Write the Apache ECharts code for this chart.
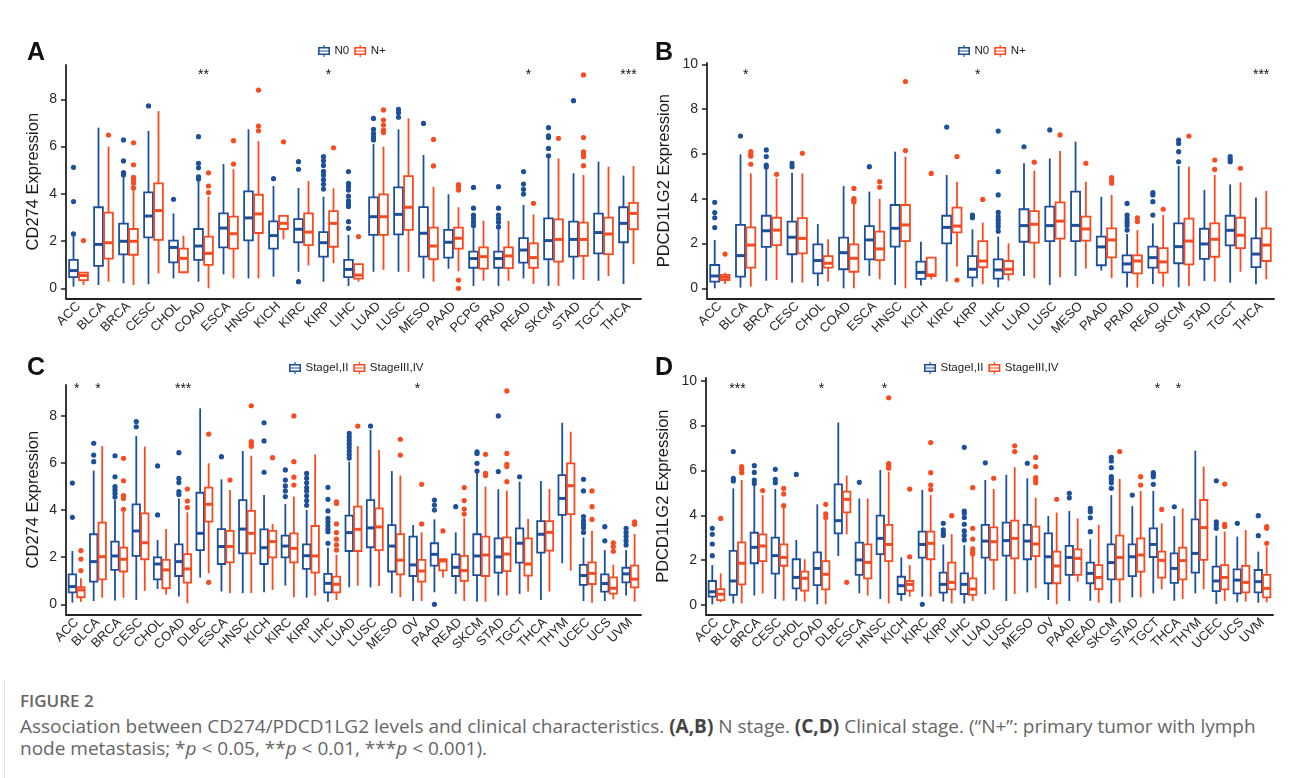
<!DOCTYPE html>
<html>
<head>
<meta charset="utf-8">
<script src="https://cdn.jsdelivr.net/npm/echarts@6.0.0/dist/echarts.min.js"></script>
<style>
  html, body { margin: 0; padding: 0; background: #fff; }
  #wrap { position: relative; width: 1290px; height: 778px; overflow: hidden; }
  #chart { position: absolute; left: 0; top: 0; width: 1290px; height: 680px; }
  #rule { position: absolute; left: 4px; top: 0; width: 1px; height: 778px; background: #e2e2e2; }
  #cap { position: absolute; left: 20px; top: 689px; font-family: "Open Sans", sans-serif; color: #666; }
  #cap .fig { font-size: 17px; font-weight: 600; line-height: 24px; color: #666; }
  #cap .txt { font-size: 19px; line-height: 22px; margin-top: 2px; white-space: nowrap; }
  #cap b { color: #444; }
</style>
</head>
<body>
<div id="wrap">
  <div id="rule"></div>
  <div id="chart"></div>
  <div id="cap">
    <div class="fig">FIGURE 2</div>
    <div class="txt">Association between CD274/PDCD1LG2 levels and clinical characteristics. <b>(A,B)</b> N stage. <b>(C,D)</b> Clinical stage. (“N+”: primary tumor with lymph<br>node metastasis; *<i>p</i> &lt; 0.05, **<i>p</i> &lt; 0.01, ***<i>p</i> &lt; 0.001).</div>
  </div>
</div>
<script>
var BLUE = '#1c4f9c'
var RED = '#fb4a20'
var FONT = '"Liberation Sans", Arial, sans-serif'

// categories
var catsA = ['ACC', 'BLCA', 'BRCA', 'CESC', 'CHOL', 'COAD', 'ESCA', 'HNSC', 'KICH', 'KIRC', 'KIRP', 'LIHC', 'LUAD', 'LUSC', 'MESO', 'PAAD', 'PCPG', 'PRAD', 'READ', 'SKCM', 'STAD', 'TGCT', 'THCA']
var catsB = ['ACC', 'BLCA', 'BRCA', 'CESC', 'CHOL', 'COAD', 'ESCA', 'HNSC', 'KICH', 'KIRC', 'KIRP', 'LIHC', 'LUAD', 'LUSC', 'MESO', 'PAAD', 'PRAD', 'READ', 'SKCM', 'STAD', 'TGCT', 'THCA']
var catsCD = ['ACC', 'BLCA', 'BRCA', 'CESC', 'CHOL', 'COAD', 'DLBC', 'ESCA', 'HNSC', 'KICH', 'KIRC', 'KIRP', 'LIHC', 'LUAD', 'LUSC', 'MESO', 'OV', 'PAAD', 'READ', 'SKCM', 'STAD', 'TGCT', 'THCA', 'THYM', 'UCEC', 'UCS', 'UVM']

var ticksCD274 = [0, 2, 4, 6, 8]
var ticksPDCD = [0, 2, 4, 6, 8, 10]

// box rows: [lower whisker, Q1, median, Q3, upper whisker]
// A: CD274, N stage
var boxA_N0 = [[0.07, 0.47, 0.75, 1.2, 2.2], [0.14, 0.95, 1.86, 3.43, 6.8], [0.21, 1.44, 1.99, 2.74, 4.7], [0.17, 2.16, 3.06, 4.06, 6.66], [0.42, 1.1, 1.73, 2.02, 3.17], [0.28, 1.2, 1.79, 2.51, 4.56], [0.59, 1.73, 2.55, 3.17, 5.26], [0.42, 2.03, 2.98, 4.1, 6.73], [0.49, 1.68, 2.23, 2.83, 4.33], [0.7, 1.95, 2.5, 2.93, 4.25], [0.28, 1.34, 1.93, 2.38, 3.88], [0.1, 0.47, 0.8, 1.2, 2.26], [0.7, 2.26, 3.03, 3.85, 6.11], [0.7, 2.28, 3.13, 4.27, 6.73], [0.42, 1.34, 2.33, 3.44, 5.64], [0.83, 1.3, 1.95, 2.47, 3.98], [0.1, 0.87, 1.26, 1.55, 2.54], [0.1, 0.87, 1.26, 1.55, 2.5], [0.42, 1.09, 1.62, 2.12, 3.53], [0.1, 1.23, 2.02, 2.96, 5.53], [0.38, 1.34, 2.07, 2.82, 4.87], [0.32, 1.48, 2.36, 3.16, 5.36], [0.18, 1.95, 2.75, 3.43, 4.77]]
var boxA_Np = [[0.14, 0.35, 0.54, 0.66, 0.66], [0.28, 1.26, 1.93, 3.2, 6.0], [0.14, 1.42, 1.99, 2.51, 4.16], [0.63, 2.05, 3.29, 4.44, 7.5], [0.65, 0.68, 1.27, 1.68, 2.23], [0.0, 0.99, 1.48, 2.19, 3.88], [0.42, 1.68, 2.31, 3.03, 5.04], [0.42, 2.34, 3.15, 3.96, 6.23], [2.07, 2.51, 2.75, 3.07, 3.07], [0.97, 1.83, 2.38, 3.17, 4.54], [1.06, 1.76, 2.75, 3.27, 4.23], [0.28, 0.41, 0.56, 1.02, 1.02], [0.78, 2.26, 3.03, 3.98, 6.0], [0.7, 2.47, 3.43, 4.75, 7.19], [0.28, 1.23, 1.79, 2.57, 4.3], [0.72, 1.68, 2.12, 2.57, 3.43], [0.32, 0.83, 1.34, 1.73, 2.86], [0.32, 0.85, 1.37, 1.73, 2.86], [0.18, 0.87, 1.3, 1.9, 3.13], [0.1, 1.13, 2.07, 2.92, 5.5], [0.35, 1.37, 2.07, 2.78, 4.8], [0.52, 1.45, 2.3, 2.99, 5.15], [1.02, 2.5, 3.17, 3.62, 5.18]]
var outA_N0 = [['ACC', 5.12], ['ACC', 3.67], ['ACC', 2.3], ['BRCA', 6.28], ['BRCA', 5.39], ['BRCA', 4.9], ['BRCA', 4.8], ['CESC', 7.72], ['CHOL', 3.77], ['COAD', 6.42], ['COAD', 5.29], ['COAD', 5.1], ['COAD', 4.72], ['COAD', 4.63], ['KICH', 4.64], ['KIRC', 5.36], ['KIRC', 5.04], ['KIRC', 0.28], ['KIRP', 5.57], ['KIRP', 5.4], ['KIRP', 5.2], ['KIRP', 4.95], ['KIRP', 4.8], ['KIRP', 4.6], ['KIRP', 4.4], ['KIRP', 4.2], ['LIHC', 4.94], ['LIHC', 4.44], ['LIHC', 4.3], ['LIHC', 4.16], ['LIHC', 3.9], ['LIHC', 3.7], ['LIHC', 3.55], ['LIHC', 3.46], ['LIHC', 2.82], ['LIHC', 2.54], ['LUAD', 7.19], ['LUAD', 6.73], ['LUAD', 6.56], ['LUAD', 6.42], ['LUAD', 6.28], ['LUSC', 7.57], ['LUSC', 7.43], ['LUSC', 7.24], ['MESO', 6.98], ['PCPG', 4.27], ['PCPG', 3.39], ['PCPG', 3.1], ['PCPG', 2.95], ['PCPG', 2.8], ['PCPG', 2.65], ['PRAD', 4.3], ['PRAD', 3.39], ['PRAD', 3.1], ['PRAD', 2.95], ['PRAD', 2.8], ['PRAD', 2.6], ['READ', 4.94], ['READ', 4.41], ['READ', 4.19], ['READ', 3.99], ['SKCM', 6.8], ['SKCM', 6.45], ['SKCM', 6.38], ['SKCM', 5.92], ['SKCM', 5.61], ['STAD', 7.94]]
var outA_Np = [['ACC', 2.02], ['BLCA', 6.49], ['BRCA', 6.16], ['BRCA', 5.23], ['BRCA', 4.7], ['BRCA', 4.6], ['BRCA', 4.45], ['BRCA', 4.25], ['COAD', 4.89], ['COAD', 4.33], ['COAD', 4.05], ['ESCA', 6.25], ['ESCA', 5.26], ['HNSC', 8.39], ['HNSC', 6.87], ['HNSC', 6.67], ['KICH', 6.2], ['KIRP', 5.95], ['LIHC', 2.19], ['LUAD', 7.55], ['LUAD', 7.12], ['LUAD', 6.91], ['LUAD', 6.7], ['LUAD', 6.59], ['MESO', 6.3], ['MESO', 5.18], ['PAAD', 4.39], ['PAAD', 4.3], ['PAAD', 4.16], ['PAAD', 0.35], ['PAAD', 0.0], ['READ', 3.6], ['SKCM', 6.35], ['STAD', 9.03], ['STAD', 6.38], ['STAD', 5.78], ['STAD', 5.68], ['STAD', 5.57], ['STAD', 5.19]]
var sigA = [['COAD', '**'], ['KIRP', '*'], ['READ', '*'], ['THCA', '***']]

// B: PDCD1LG2, N stage
var boxB_N0 = [[0.0, 0.3, 0.55, 1.04, 2.16], [0.03, 0.52, 1.46, 2.83, 5.98], [0.34, 1.85, 2.57, 3.24, 5.4], [0.25, 1.52, 2.28, 2.98, 5.16], [0.1, 0.67, 1.24, 1.96, 2.87], [0.0, 0.85, 1.59, 2.26, 4.57], [0.55, 1.29, 2.16, 2.78, 4.32], [0.15, 1.86, 2.68, 3.72, 6.1], [0.12, 0.42, 0.71, 1.19, 2.08], [0.3, 2.01, 2.72, 3.24, 5.06], [0.07, 0.49, 0.85, 1.44, 2.63], [0.04, 0.43, 0.82, 1.29, 2.31], [0.55, 2.08, 2.8, 3.53, 5.58], [0.15, 2.11, 2.8, 3.65, 5.8], [0.55, 2.11, 2.81, 4.32, 6.55], [0.79, 1.03, 1.85, 2.31, 4.09], [0.04, 0.71, 1.09, 1.47, 2.43], [0.19, 0.92, 1.37, 1.86, 2.9], [0.04, 1.12, 1.86, 2.9, 5.46], [0.33, 1.31, 1.98, 2.66, 4.39], [0.25, 1.92, 2.59, 3.24, 4.64], [0.18, 0.95, 1.53, 2.23, 4.05]]
var boxB_Np = [[0.19, 0.37, 0.49, 0.6, 0.7], [0.07, 0.92, 1.93, 2.72, 5.13], [0.37, 1.93, 2.6, 3.15, 4.91], [0.25, 1.56, 2.23, 3.13, 5.13], [0.3, 0.92, 1.12, 1.44, 2.19], [0.0, 0.74, 1.34, 1.96, 3.75], [0.4, 1.26, 1.76, 2.53, 3.99], [0.0, 2.11, 2.83, 3.72, 5.88], [0.4, 0.55, 0.6, 1.37, 1.37], [0.97, 2.5, 2.78, 3.6, 4.76], [0.18, 0.94, 1.22, 2.11, 2.93], [0.34, 0.63, 0.85, 1.22, 2.01], [0.45, 2.04, 2.86, 3.45, 5.25], [0.49, 2.22, 3.0, 3.84, 6.13], [0.88, 2.13, 2.65, 3.2, 4.76], [0.45, 1.38, 2.16, 2.68, 4.17], [0.03, 0.67, 1.22, 1.47, 2.6], [0.07, 0.7, 1.18, 1.79, 3.27], [0.1, 1.07, 2.11, 3.11, 5.43], [0.3, 1.41, 2.19, 2.9, 5.06], [0.74, 1.79, 2.37, 3.15, 4.73], [0.4, 1.22, 1.93, 2.68, 4.35]]
var outB_N0 = [['ACC', 3.84], ['ACC', 3.38], ['ACC', 3.15], ['ACC', 2.71], ['BLCA', 6.8], ['BRCA', 6.18], ['BRCA', 5.88], ['BRCA', 5.5], ['BRCA', 5.42], ['CESC', 5.58], ['CESC', 5.43], ['ESCA', 5.43], ['KIRC', 7.2], ['KIRP', 3.27], ['KIRP', 3.15], ['LIHC', 7.02], ['LIHC', 5.21], ['LIHC', 4.17], ['LIHC', 3.39], ['LIHC', 3.2], ['LIHC', 3.05], ['LIHC', 2.9], ['LIHC', 2.75], ['LIHC', 2.55], ['LUAD', 6.32], ['LUSC', 7.07], ['PRAD', 3.79], ['PRAD', 3.27], ['PRAD', 3.1], ['PRAD', 2.95], ['PRAD', 2.8], ['PRAD', 2.6], ['READ', 4.27], ['READ', 4.17], ['READ', 3.87], ['READ', 3.27], ['SKCM', 6.62], ['SKCM', 6.47], ['SKCM', 6.1], ['SKCM', 5.65], ['TGCT', 5.88], ['TGCT', 5.76], ['TGCT', 5.65]]
var outB_Np = [['ACC', 1.53], ['BLCA', 6.1], ['BLCA', 6.0], ['BLCA', 5.9], ['BLCA', 5.54], ['BRCA', 5.09], ['CESC', 6.03], ['COAD', 4.46], ['COAD', 4.0], ['COAD', 3.92], ['COAD', 3.85], ['ESCA', 4.76], ['ESCA', 4.51], ['HNSC', 9.23], ['HNSC', 6.15], ['KICH', 5.13], ['KIRC', 5.88], ['KIRC', 0.37], ['KIRP', 3.97], ['LUAD', 5.63], ['LUSC', 6.85], ['MESO', 5.58], ['PAAD', 4.94], ['PAAD', 4.79], ['PAAD', 4.69], ['PRAD', 3.15], ['PRAD', 2.98], ['READ', 3.53], ['SKCM', 6.8], ['STAD', 5.73], ['STAD', 5.31], ['TGCT', 5.36]]
var sigB = [['BLCA', '*'], ['KIRP', '*'], ['THCA', '***']]

// C: CD274, clinical stage
var boxC_S12 = [[0.07, 0.51, 0.75, 1.27, 2.26], [0.14, 0.96, 1.81, 2.97, 5.67], [0.16, 1.46, 2.05, 2.66, 4.42], [0.18, 2.05, 3.11, 4.24, 7.14], [0.65, 1.06, 1.71, 1.99, 2.73], [0.33, 1.2, 1.81, 2.54, 4.49], [1.13, 2.3, 3.01, 4.73, 8.31], [0.54, 1.71, 2.45, 3.19, 5.3], [0.47, 2.16, 3.19, 4.42, 6.5], [0.51, 1.71, 2.4, 3.18, 4.64], [0.79, 1.99, 2.47, 2.91, 4.25], [0.28, 1.5, 2.06, 2.54, 4.0], [0.11, 0.51, 0.89, 1.29, 2.4], [0.72, 2.26, 3.04, 3.76, 6.05], [0.72, 2.42, 3.24, 4.42, 7.39], [0.47, 1.39, 2.47, 3.36, 5.65], [0.14, 1.2, 1.67, 2.87, 3.36], [0.51, 1.64, 2.12, 2.59, 3.6], [0.44, 1.2, 1.57, 2.12, 3.05], [0.11, 1.24, 2.05, 2.97, 5.6], [0.37, 1.34, 2.01, 2.8, 4.88], [0.44, 1.77, 2.59, 3.22, 5.2], [0.18, 2.19, 2.97, 3.53, 5.23], [1.74, 3.79, 4.49, 5.48, 7.7], [0.14, 0.82, 1.22, 1.67, 2.83], [0.14, 0.54, 0.88, 1.27, 2.3], [0.37, 0.93, 1.29, 1.55, 2.3]]
var boxC_S34 = [[0.11, 0.3, 0.61, 0.73, 1.1], [0.28, 1.06, 2.02, 3.46, 6.71], [0.28, 1.39, 1.91, 2.4, 3.93], [0.57, 1.91, 2.61, 3.86, 6.69], [0.42, 0.68, 1.46, 1.88, 3.19], [0.04, 0.92, 1.5, 2.13, 3.9], [1.31, 3.51, 4.24, 4.95, 5.98], [0.47, 1.78, 2.45, 3.11, 4.85], [0.47, 2.16, 3.01, 3.96, 6.3], [0.61, 1.99, 2.66, 3.11, 3.41], [0.3, 1.78, 2.37, 3.01, 4.57], [0.37, 1.34, 2.05, 3.32, 6.36], [0.18, 0.51, 0.85, 1.17, 2.1], [0.79, 2.26, 3.18, 4.14, 6.71], [0.78, 2.3, 3.28, 4.07, 6.54], [0.3, 1.27, 1.87, 2.98, 5.46], [0.14, 0.96, 1.41, 1.88, 3.05], [1.14, 1.44, 1.84, 1.92, 1.92], [0.14, 0.99, 1.43, 2.05, 3.65], [0.11, 1.2, 2.09, 2.87, 4.99], [0.37, 1.41, 2.13, 2.84, 4.82], [0.54, 1.22, 1.71, 2.8, 3.62], [0.54, 2.28, 3.05, 3.53, 4.89], [1.43, 3.82, 5.03, 5.98, 7.32], [0.07, 0.86, 1.31, 1.78, 3.12], [0.21, 0.45, 0.68, 1.14, 1.67], [0.11, 0.72, 1.07, 1.64, 2.98]]
var outC_S12 = [['ACC', 5.14], ['ACC', 3.69], ['BLCA', 6.83], ['BLCA', 6.33], ['BLCA', 6.05], ['BRCA', 6.3], ['BRCA', 5.41], ['BRCA', 4.99], ['BRCA', 4.85], ['BRCA', 4.7], ['BRCA', 4.55], ['CESC', 7.75], ['CESC', 7.53], ['CHOL', 5.87], ['CHOL', 3.79], ['COAD', 6.43], ['COAD', 5.34], ['COAD', 5.16], ['COAD', 4.78], ['COAD', 4.66], ['ESCA', 6.26], ['KICH', 7.7], ['KICH', 6.93], ['KICH', 5.6], ['KIRC', 5.7], ['KIRC', 5.27], ['KIRC', 5.02], ['KIRC', 4.81], ['KIRC', 4.57], ['KIRP', 5.55], ['KIRP', 5.35], ['KIRP', 5.15], ['KIRP', 4.95], ['KIRP', 4.8], ['KIRP', 4.6], ['KIRP', 4.4], ['KIRP', 4.2], ['LIHC', 4.96], ['LIHC', 4.45], ['LIHC', 3.96], ['LIHC', 3.65], ['LIHC', 3.5], ['LIHC', 3.35], ['LIHC', 3.2], ['LIHC', 3.08], ['LIHC', 2.59], ['LUAD', 7.25], ['LUAD', 7.1], ['LUAD', 6.95], ['LUAD', 6.8], ['LUAD', 6.65], ['LUAD', 6.5], ['LUAD', 6.35], ['LUAD', 6.2], ['LUSC', 7.56], ['PAAD', 4.42], ['PAAD', 4.21], ['PAAD', 4.0], ['PAAD', 0.0], ['READ', 4.14], ['SKCM', 6.47], ['SKCM', 6.4], ['SKCM', 5.98], ['SKCM', 5.65], ['STAD', 7.99], ['STAD', 5.63], ['TGCT', 5.41], ['UCEC', 5.3], ['UCEC', 4.81], ['UCEC', 3.72], ['UCEC', 3.55], ['UCEC', 3.4], ['UCEC', 3.25], ['UCEC', 3.05], ['UCS', 3.29], ['UCS', 2.69], ['UVM', 3.22], ['UVM', 3.05], ['UVM', 2.88], ['UVM', 2.7], ['UVM', 2.52]]
var outC_S34 = [['ACC', 2.28], ['ACC', 1.92], ['ACC', 1.43], ['BRCA', 6.19], ['BRCA', 5.24], ['BRCA', 4.61], ['BRCA', 4.49], ['BRCA', 4.03], ['COAD', 4.89], ['COAD', 4.38], ['COAD', 4.1], ['DLBC', 7.22], ['DLBC', 0.93], ['ESCA', 5.27], ['HNSC', 8.42], ['HNSC', 6.9], ['HNSC', 6.8], ['HNSC', 6.7], ['KICH', 6.22], ['KIRC', 7.99], ['KIRC', 6.05], ['KIRC', 5.39], ['KIRC', 5.06], ['LIHC', 4.35], ['LIHC', 4.28], ['LIHC', 3.41], ['LIHC', 3.04], ['LIHC', 2.76], ['LIHC', 2.52], ['LIHC', 2.3], ['LUAD', 7.56], ['MESO', 7.0], ['MESO', 6.33], ['OV', 5.09], ['OV', 3.41], ['PAAD', 3.11], ['READ', 4.95], ['READ', 4.4], ['READ', 4.04], ['READ', 3.83], ['SKCM', 6.36], ['SKCM', 5.55], ['SKCM', 5.46], ['STAD', 9.05], ['STAD', 6.4], ['STAD', 5.94], ['STAD', 5.84], ['STAD', 5.2], ['UCEC', 4.81], ['UCEC', 4.14], ['UCEC', 3.6], ['UCS', 2.61], ['UCS', 2.45], ['UCS', 2.25], ['UVM', 3.5], ['UVM', 3.39]]
var sigC = [['ACC', '*'], ['BLCA', '*'], ['COAD', '***'], ['OV', '*']]

// D: PDCD1LG2, clinical stage
var boxD_S12 = [[0.03, 0.37, 0.59, 1.07, 1.78], [0.07, 0.45, 1.07, 2.41, 5.2], [0.42, 1.86, 2.57, 3.22, 5.35], [0.27, 1.4, 2.2, 3.0, 5.17], [0.19, 0.74, 1.23, 2.04, 2.9], [0.03, 0.89, 1.63, 2.35, 4.49], [2.18, 3.19, 3.76, 5.38, 8.14], [0.52, 1.34, 2.01, 2.78, 4.75], [0.27, 2.27, 2.97, 3.98, 6.02], [0.18, 0.49, 0.86, 1.26, 2.12], [0.37, 2.11, 2.7, 3.27, 5.13], [0.15, 0.55, 0.92, 1.44, 2.7], [0.07, 0.49, 0.92, 1.41, 2.67], [0.48, 2.11, 2.85, 3.57, 5.57], [0.18, 2.2, 2.87, 3.67, 5.8], [0.56, 2.04, 2.85, 3.57, 5.65], [0.22, 0.97, 2.15, 3.19, 3.97], [0.18, 1.34, 2.12, 2.64, 4.19], [0.19, 0.97, 1.41, 1.89, 2.93], [0.07, 1.14, 1.89, 2.7, 4.9], [0.34, 1.29, 2.15, 2.7, 4.41], [0.52, 2.14, 2.7, 3.42, 5.08], [0.19, 0.99, 1.63, 2.3, 3.97], [0.52, 1.44, 2.3, 3.82, 6.88], [0.04, 0.62, 1.07, 1.71, 3.09], [0.12, 0.52, 1.11, 1.59, 3.05], [0.1, 0.56, 1.04, 1.56, 2.38]]
var boxD_S34 = [[0.12, 0.22, 0.48, 0.71, 1.41], [0.07, 0.92, 1.86, 2.79, 5.57], [0.52, 1.96, 2.63, 3.15, 4.9], [0.19, 1.75, 2.12, 2.7, 4.38], [0.15, 0.64, 1.19, 1.49, 2.04], [0.03, 0.7, 1.37, 1.96, 3.8], [3.15, 4.13, 4.71, 5.05, 5.77], [0.42, 1.19, 1.9, 2.7, 4.75], [0.07, 1.96, 2.7, 3.57, 5.94], [0.37, 0.64, 0.92, 1.07, 1.78], [0.37, 2.04, 2.75, 3.27, 4.9], [0.07, 0.7, 1.01, 1.89, 3.16], [0.18, 0.45, 0.71, 1.19, 2.2], [0.67, 2.01, 2.82, 3.46, 5.17], [0.49, 2.08, 2.97, 3.76, 6.14], [0.74, 2.18, 2.72, 3.49, 4.78], [0.03, 0.97, 1.74, 2.38, 4.12], [1.04, 1.34, 2.08, 2.48, 3.86], [0.1, 0.71, 1.23, 1.78, 3.57], [0.12, 1.14, 2.12, 3.09, 5.62], [0.34, 1.49, 2.23, 2.97, 5.08], [0.7, 1.22, 1.99, 2.38, 3.64], [0.27, 1.14, 1.98, 2.56, 4.31], [0.7, 2.01, 3.45, 4.68, 6.17], [0.18, 0.7, 1.23, 1.78, 3.27], [0.15, 0.56, 1.01, 1.74, 3.34], [0.12, 0.34, 0.74, 1.34, 2.6]]
var outD_S12 = [['ACC', 3.42], ['ACC', 3.15], ['ACC', 2.72], ['ACC', 2.2], ['BLCA', 6.84], ['BLCA', 5.65], ['BLCA', 5.53], ['BRCA', 6.21], ['BRCA', 5.91], ['BRCA', 5.57], ['BRCA', 5.42], ['CESC', 6.05], ['CESC', 5.6], ['CESC', 5.45], ['CHOL', 5.82], ['ESCA', 5.47], ['KIRC', 0.03], ['KIRP', 3.64], ['KIRP', 3.35], ['KIRP', 3.2], ['KIRP', 3.1], ['LIHC', 7.03], ['LIHC', 4.19], ['LIHC', 4.09], ['LIHC', 3.9], ['LIHC', 3.6], ['LIHC', 3.3], ['LIHC', 3.1], ['LIHC', 2.9], ['LUAD', 6.34], ['MESO', 6.32], ['PAAD', 4.98], ['PAAD', 4.78], ['READ', 4.31], ['READ', 4.16], ['READ', 3.89], ['READ', 3.27], ['SKCM', 6.58], ['SKCM', 6.42], ['SKCM', 6.12], ['SKCM', 5.72], ['SKCM', 5.6], ['SKCM', 5.45], ['SKCM', 5.2], ['STAD', 4.9], ['TGCT', 5.9], ['TGCT', 5.8], ['TGCT', 5.72], ['TGCT', 5.38], ['THCA', 4.38], ['UCEC', 5.54], ['UCEC', 3.71], ['UCEC', 3.57], ['UCEC', 3.42], ['UCS', 3.64], ['UVM', 3.98], ['UVM', 3.09]]
var outD_S34 = [['ACC', 3.86], ['BLCA', 6.17], ['BLCA', 6.05], ['BLCA', 5.9], ['BRCA', 5.1], ['CESC', 5.2], ['CESC', 4.95], ['CESC', 4.43], ['COAD', 4.49], ['COAD', 4.06], ['COAD', 3.9], ['DLBC', 1.01], ['HNSC', 9.24], ['HNSC', 6.3], ['HNSC', 6.2], ['HNSC', 6.1], ['KICH', 5.17], ['KICH', 2.15], ['KIRC', 7.24], ['KIRC', 5.9], ['KIRC', 5.35], ['KIRC', 5.15], ['KIRP', 3.98], ['LIHC', 5.23], ['LIHC', 3.42], ['LIHC', 2.94], ['LIHC', 2.5], ['LIHC', 2.35], ['LIHC', 2.27], ['LUAD', 5.65], ['LUSC', 7.1], ['LUSC', 6.84], ['MESO', 6.58], ['MESO', 6.17], ['MESO', 5.68], ['MESO', 5.57], ['MESO', 5.45], ['OV', 4.71], ['SKCM', 6.84], ['STAD', 5.72], ['STAD', 5.35], ['TGCT', 4.26], ['UCEC', 5.39], ['UCEC', 3.6], ['UCEC', 3.5], ['UVM', 3.49], ['UVM', 3.42], ['UVM', 2.75]]
var sigD = [['BLCA', '***'], ['COAD', '*'], ['HNSC', '*'], ['TGCT', '*'], ['THCA', '*']]

// legend glyph: small boxplot
var BOX_ICON = 'path://M1,2H13V10H1Z M2.6,3.6V8.4H11.4V3.6Z M2.6,5.4H11.4V6.6H2.6Z M6.4,0H7.6V2H6.4Z M6.4,10H7.6V12H6.4Z'

var panels = [
  { letter: 'A', cats: catsA, ticks: ticksCD274, name: 'CD274 Expression', nameGap: 24,
    grid: { left: 66, top: 65, width: 575, height: 233.3 }, min: -0.423, max: 9.452,
    legend: { left: 318, top: 45 }, groups: ['N0', 'N+'],
    boxes: [boxA_N0, boxA_Np], outs: [outA_N0, outA_Np], sig: sigA, sigY: 75, lx: 27, ly: 41 },
  { letter: 'B', cats: catsB, ticks: ticksPDCD, name: 'PDCD1LG2 Expression', nameGap: 34,
    grid: { left: 707, top: 63, width: 567, height: 235.3 }, min: -0.446, max: 10.06,
    legend: { left: 958, top: 45 }, groups: ['N0', 'N+'],
    boxes: [boxB_N0, boxB_Np], outs: [outB_N0, outB_Np], sig: sigB, sigY: 75, lx: 655, ly: 41 },
  { letter: 'C', cats: catsCD, ticks: ticksCD274, name: 'CD274 Expression', nameGap: 24,
    grid: { left: 66, top: 385, width: 575, height: 229.3 }, min: -0.424, max: 9.30,
    legend: { left: 289, top: 362 }, groups: ['StageI,II', 'StageIII,IV'],
    boxes: [boxC_S12, boxC_S34], outs: [outC_S12, outC_S34], sig: sigC, sigY: 389, lx: 27, ly: 356 },
  { letter: 'D', cats: catsCD, ticks: ticksPDCD, name: 'PDCD1LG2 Expression', nameGap: 34,
    grid: { left: 706, top: 378, width: 567, height: 236.3 }, min: -0.415, max: 10.12,
    legend: { left: 924, top: 362 }, groups: ['StageI,II', 'StageIII,IV'],
    boxes: [boxD_S12, boxD_S34], outs: [outD_S12, outD_S34], sig: sigD, sigY: 389, lx: 655, ly: 356 }
]

var renderBox = function (side, color) {
  return function (params, api) {
    var i = api.value(0)
    var bw = api.size([1, 0])[0]
    var cx = api.coord([i, 0])[0] + side * bw * 0.2
    var hw = bw * 0.175
    var y = [1, 2, 3, 4, 5].map(function (d) { return api.coord([i, api.value(d)])[1] })
    return {
      type: 'group',
      children: [
        { type: 'line', shape: { x1: cx, y1: y[0], x2: cx, y2: y[4] }, style: { stroke: color, lineWidth: 1.8 } },
        { type: 'rect', shape: { x: cx - hw, y: y[3], width: hw * 2, height: y[1] - y[3] }, style: { fill: '#fff', stroke: color, lineWidth: 1.8 } },
        { type: 'line', shape: { x1: cx - hw, y1: y[2], x2: cx + hw, y2: y[2] }, style: { stroke: color, lineWidth: 3 } }
      ]
    }
  }
}

var renderDot = function (side, color) {
  return function (params, api) {
    var i = api.value(0)
    var bw = api.size([1, 0])[0]
    var p = api.coord([i, api.value(1)])
    return { type: 'circle', shape: { cx: p[0] + side * bw * 0.2, cy: p[1], r: 2.6 }, style: { fill: color } }
  }
}

var renderSig = function (sig, yPix) {
  return function (params, api) {
    var x = api.coord([api.value(0), 0])[0]
    return { type: 'text', x: x, y: yPix, style: { text: sig[params.dataIndex][1], align: 'center', verticalAlign: 'middle', fill: '#111', font: '14px ' + FONT } }
  }
}

var grids = [], xAxes = [], yAxes = [], legends = [], series = [], graphics = []
var colors = [BLUE, RED]

panels.forEach(function (p, k) {
  grids.push(p.grid)
  xAxes.push({
    gridIndex: k, type: 'category', data: p.cats,
    axisLine: { onZero: false, lineStyle: { color: '#222', width: 1.8 } },
    axisTick: { alignWithLabel: true, length: 5, lineStyle: { color: '#222', width: 1.5 } },
    axisLabel: { interval: 0, rotate: 45, fontSize: 13, color: '#2a2a2a', margin: 6, fontFamily: FONT },
    splitLine: { show: false }
  })
  yAxes.push({
    gridIndex: k, type: 'value', min: p.min, max: p.max,
    axisLine: { show: true, lineStyle: { color: '#222', width: 1.8 } },
    axisTick: { show: true, length: 5, customValues: p.ticks, lineStyle: { color: '#222', width: 1.5 } },
    axisLabel: { customValues: p.ticks, fontSize: 14, color: '#2a2a2a', margin: 9, fontFamily: FONT },
    splitLine: { show: false },
    name: p.name, nameLocation: 'middle', nameGap: p.nameGap,
    nameTextStyle: { fontSize: 16.5, color: '#1a1a1a', fontFamily: FONT }
  })
  legends.push({
    left: p.legend.left, top: p.legend.top, padding: 0, itemWidth: 13, itemHeight: 12, itemGap: 5,
    selectedMode: false,
    data: p.groups.map(function (g) { return { name: g, icon: BOX_ICON } }),
    itemStyle: { borderWidth: 0 },
    textStyle: { fontSize: 11.5, color: '#222', fontFamily: FONT, padding: [0, 0, 0, -1] }
  })
  p.groups.forEach(function (g, j) {
    var side = j === 0 ? -1 : 1
    series.push({
      type: 'custom', name: g, xAxisIndex: k, yAxisIndex: k,
      itemStyle: { color: colors[j] },
      renderItem: renderBox(side, colors[j]),
      encode: { x: 0, y: [1, 2, 3, 4, 5] },
      data: p.boxes[j].map(function (b, i) { return [i].concat(b) }),
      silent: true, z: 2
    })
    series.push({
      type: 'custom', name: g, xAxisIndex: k, yAxisIndex: k,
      itemStyle: { color: colors[j] },
      renderItem: renderDot(side, colors[j]),
      encode: { x: 0, y: 1 },
      data: p.outs[j].map(function (o) { return [p.cats.indexOf(o[0]), o[1]] }),
      silent: true, z: 3
    })
  })
  series.push({
    type: 'custom', xAxisIndex: k, yAxisIndex: k,
    renderItem: renderSig(p.sig, p.sigY),
    encode: { x: 0, y: 1 },
    data: p.sig.map(function (s) { return [p.cats.indexOf(s[0]), 0] }),
    silent: true, z: 4
  })
  graphics.push({
    type: 'text', left: p.lx, top: p.ly,
    style: { text: p.letter, font: 'bold 25px ' + FONT, fill: '#111' }
  })
})

var chart = echarts.init(document.getElementById('chart'), null, { renderer: 'canvas' })
chart.setOption({
  animation: false,
  backgroundColor: '#fff',
  textStyle: { fontFamily: FONT },
  grid: grids,
  xAxis: xAxes,
  yAxis: yAxes,
  legend: legends,
  graphic: graphics,
  series: series
})
</script>
</body>
</html>
